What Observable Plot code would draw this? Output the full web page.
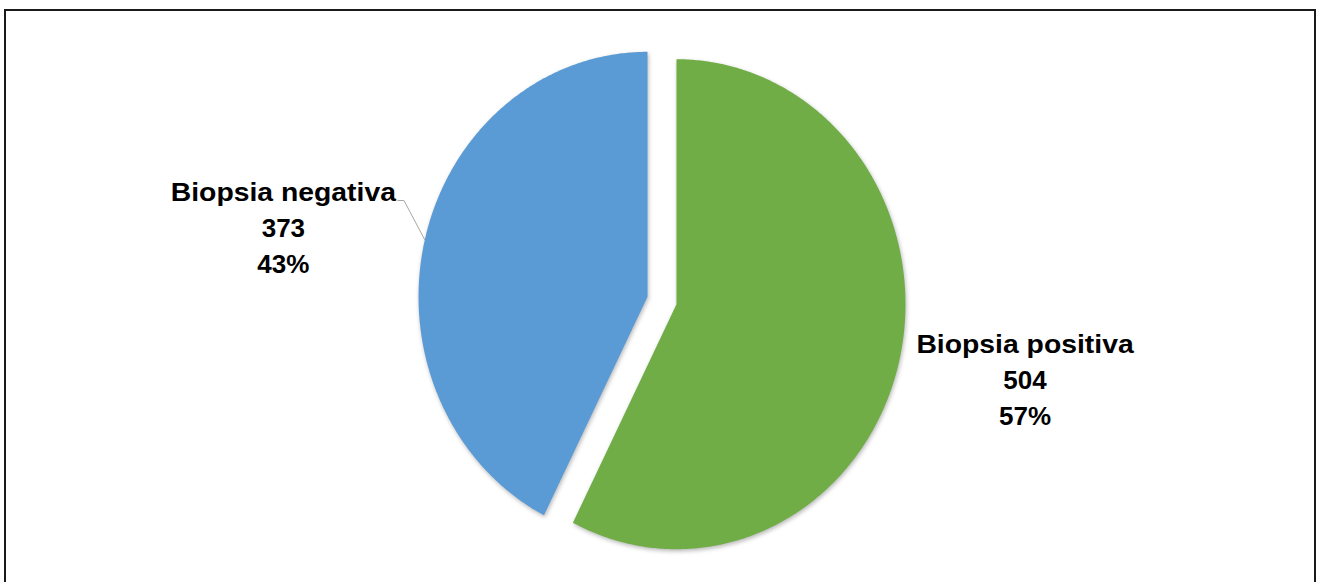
<!DOCTYPE html>
<html><head><meta charset="utf-8">
<script src="https://cdn.jsdelivr.net/npm/d3@7"></script>
<script src="https://cdn.jsdelivr.net/npm/@observablehq/plot@0.6"></script>
<style>
html,body{margin:0;padding:0;background:#fff;}
#wrap{position:relative;width:1317px;height:582px;overflow:hidden;}
#border{position:absolute;left:4px;top:9px;width:1312px;height:620px;border:2px solid #1a1a1a;box-sizing:border-box;pointer-events:none;}
</style></head><body>
<div id="wrap"><div id="chart"></div><div id="border"></div></div>
<script>
// ---- data ----
const categories = ["Biopsia positiva", "Biopsia negativa"];
const counts = [504, 373];
const percentLabels = ["57%", "43%"];
const colors = ["#70AD47", "#5B9BD5"];
const leaderFor = ["Biopsia negativa"];

// ---- layout ----
const W = 1317, H = 582;
const cx = 661.5, cy = 300, rx = 229, ry = 245;
const explode = 0.065;
const labelRadius = [1.63, 1.70];
const labelDy = [-16, 22];
const fontSize = 26;
const nameStretch = 1.09;
const lineH = 36;
const nameGap = 33;
const fontFamily = "'Liberation Sans', Arial, sans-serif";

const arcs = d3.pie().sort(null)(counts);
const dir = a => [Math.sin(a), -Math.cos(a)];

const slices = arcs.map((a, i) => {
  const mid = (a.startAngle + a.endAngle) / 2;
  const [mx, my] = dir(mid);
  const ox = mx * explode, oy = my * explode;
  const pts = [{x: ox, y: oy}];
  const n = Math.max(2, Math.ceil((a.endAngle - a.startAngle) / (Math.PI / 360)));
  for (let k = 0; k <= n; k++) {
    const t = a.startAngle + (a.endAngle - a.startAngle) * k / n;
    const [px, py] = dir(t);
    pts.push({x: ox + px, y: oy + py});
  }
  pts.push({x: ox, y: oy});
  const lx = mx * labelRadius[i];
  const ly = my * labelRadius[i] + labelDy[i] / ry;
  return {i, mid, ox, oy, pts,
    name: categories[i],
    values: `${counts[i]}\n${percentLabels[i]}`,
    lx,
    nameY: ly - nameGap / ry,
    valuesY: ly + (lineH / 2) / ry,
    edge: {x: ox + mx, y: oy + my}};
});

// text width measure
const ctx = document.createElement("canvas").getContext("2d");
ctx.font = `bold ${fontSize}px ${fontFamily}`;

const leaders = [];
slices.forEach(s => {
  if (!leaderFor.includes(s.name)) return;
  const tw = ctx.measureText(s.name).width * nameStretch;
  const side = Math.sign(s.lx);
  const startX = s.lx - side * (tw / 2 + 2) / rx;
  const startY = s.nameY + (fontSize * 0.3) / ry;
  const elbowX = startX - side * 6 / rx;
  leaders.push({x: startX, y: startY, g: s.i}, {x: elbowX, y: startY, g: s.i}, {x: s.edge.x, y: s.edge.y, g: s.i});
});

const plot = Plot.plot({
  width: W, height: H,
  marginTop: 0, marginRight: 0, marginBottom: 0, marginLeft: 0,
  x: {type: "linear", domain: [-1, 1], range: [cx - rx, cx + rx], axis: null},
  y: {type: "linear", domain: [-1, 1], range: [cy - ry, cy + ry], axis: null},
  style: {background: "#fff", overflow: "visible"},
  marks: [
    ...slices.map(s => Plot.line(s.pts, {x: "x", y: "y", fill: colors[s.i], stroke: "none"})),
    Plot.line(leaders, {x: "x", y: "y", z: "g", stroke: "#a6a6a6", strokeWidth: 1}),
    Plot.text(slices, {x: "lx", y: "nameY", text: "name", fontSize, fontWeight: "bold",
      fontFamily, fill: "#000", textAnchor: "middle"}),
    Plot.text(slices, {x: "lx", y: "valuesY", text: "values", fontSize, fontWeight: "bold",
      fontFamily, fill: "#000", lineHeight: lineH / fontSize, lineAnchor: "middle", textAnchor: "middle"})
  ]
});
d3.select(plot).selectAll("g[aria-label='line']").filter((d, i) => i < slices.length)
  .style("filter", "drop-shadow(1px 2px 2px rgba(0,0,0,0.28))");
d3.select(plot).selectAll("g[aria-label='text']").filter((d, i) => i === 0)
  .selectAll("text").each(function() {
    const t = this.getAttribute("transform") || "";
    this.setAttribute("transform", `${t} scale(${nameStretch},1)`);
  });
document.getElementById("chart").appendChild(plot);
</script>
</body></html>
